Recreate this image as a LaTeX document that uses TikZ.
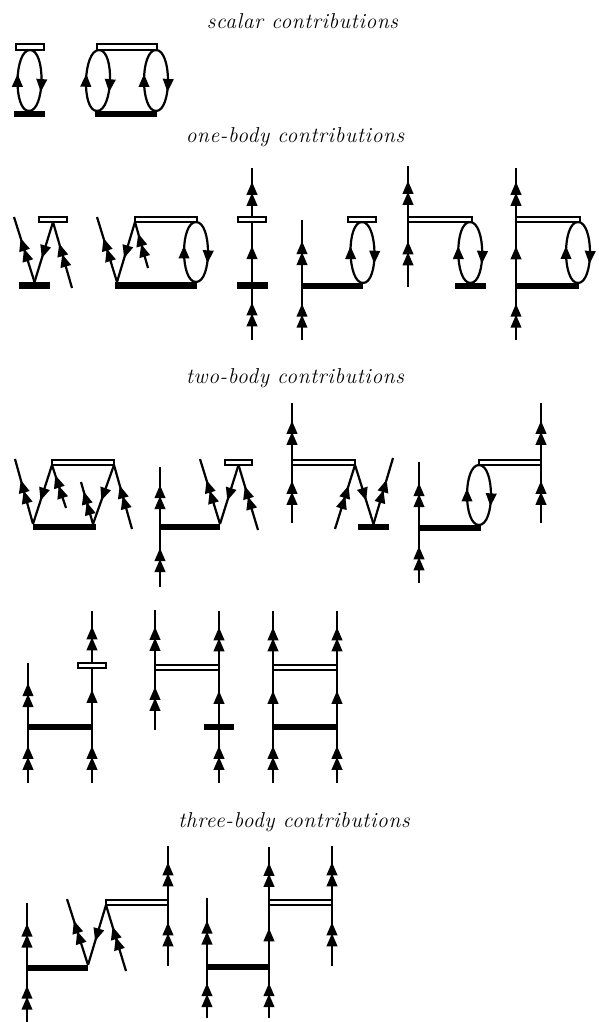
\documentclass[tikz,border=0pt]{standalone}
\usepackage{fontspec}
\setmainfont{Latin Modern Roman}
\usetikzlibrary{fit,backgrounds,decorations.markings,arrows.meta}
\tikzset{mytip/.tip={Triangle[length=13pt, width=10.5pt]}}
\tikzset{line/.style={line width=2.2pt}}
\tikzset{openbar/.style={fit={#1}, inner sep=0pt, outer sep=0pt, minimum size=0pt, draw, fill=white, line width=2.2pt}}
\tikzset{fullbar/.style={fit={#1}, inner sep=0pt, outer sep=0pt, minimum size=0pt, fill=black}}
\tikzset{sarrow/.style={line, postaction={decorate}, decoration={markings, mark=at position #1 with {\arrow[xshift=6.5pt]{mytip}}}}, sarrow/.default=.5}
\tikzset{darrow/.style={line, postaction={decorate}, decoration={markings, mark=at position #1 with {\arrow[xshift=12pt]{mytip}\arrow[xshift=1pt]{mytip}}}}, darrow/.default=.5}
\tikzset{beschrift/.style={font=\fontsize{21.5}{0}\selectfont\itshape\addfontfeature{LetterSpace=3}}}

\begin{document}
\begin{tikzpicture}[x=1pt, y=1pt]
		\useasboundingbox (0,0) rectangle (598,-1022);

		\node[beschrift] (scalarText) at (302.5,-21) {scalar contributions};
		\node[beschrift] (oneText) at (295,-137) {one-body contributions};
		\node[beschrift] (twoText) at (295,-378) {two-body contributions};
		\node[beschrift] (threeText) at (294,-822) {three-body contributions};

		% BARS
		\foreach \i/\xa/\ya/\xb/\yb in {1/16/-44/44/-50, 2/97/-44/157/-50, 3/39/-217/67/-222, 4/135/-217/197/-222, 5/238/-217/266/-222,
			6/348/-217/376/-222, 7/408/-217/472/-222, 8/516/-217/580/-222, 9/52/-460/114/-465, 10/225/-460/252/-465, 11/292/-460/355/-465,
			12/479/-460/541/-465, 13/78/-663/106/-668, 14/155/-665/219/-670, 15/273/-665/337/-670, 16/106/-900/168/-905, 17/269/-900/332/-905} {
			\node[openbar={(\xa,\ya) (\xb,\yb)}] (o\i) {};
		}
		\foreach \i/\xa/\ya/\xb/\yb in {1/13.5/-111/44.5/-117, 2/95/-111/157/-117, 3/19/-282/50/-289, 4/115/-282/197/-289, 5/236.5/-282/267.5/-289,
			6/302/-283/363/-289, 7/455/-283/486/-289, 8/516/-283/579/-289, 9/33/-524/96/-530, 10/160/-524/220/-530, 11/358/-524/389/-530,
			12/419/-525/481/-531, 13/28/-724/92/-730, 14/204/-724/234/-730, 15/273/-724/337/-730, 16/27/-965/88/-971, 17/207/-964/269/-970} {
			\node[fullbar={(\xa,\ya) (\xb,\yb)}] (b\i) {};
		}

		% FREE ENDS
		\foreach \n/\x/\y in {f3a/14/-217, f3b/72/-288, f4a/97/-217, f4b/148/-268, f5a/252/-168, f5b/252/-340, f6a/302/-220, f6b/302/-340,
			f7a/408/-166, f7b/408/-287, f8a/516/-168, f8b/516/-340, f9a/15/-459, f9b/66/-508, f9c/81/-482, f9d/132/-529,
			f10a/160/-467, f10b/160/-587, f10c/200/-459, f10d/258/-530, f11a/292/-403, f11b/292/-523, f11c/335/-529, f11d/393/-458,
			f12a/419/-462, f12b/419/-583, f12c/541/-403, f12d/541/-523, f13a/28/-663, f13b/28/-783, f13c/92/-611, f13d/92/-783,
			f14a/155/-610, f14b/155/-730, f14c/219/-611, f14d/219/-783, f15a/273/-611, f15b/273/-783, f15c/337/-611, f15d/337/-783,
			f16a/27/-903, f16b/27/-1022, f16c/67/-899, f16d/126/-971, f16e/168/-846, f16f/168/-966,
			f17a/207/-898, f17b/207/-1018, f17c/269/-847, f17d/269/-1018, f17e/332/-846, f17f/332/-966} {
			\coordinate (\n) at (\x,\y);
		}
		\coordinate (j4) at ([xshift=2pt]b4.north west);
		\coordinate (j9) at ([xshift=-3pt]b9.north east);
		\coordinate (l2a) at ([xshift=2pt]o2.south west);
		\coordinate (l2b) at ([xshift=2pt]b2.north west);
		\coordinate (l2c) at ([xshift=-1pt]o2.south east);
		\coordinate (l2d) at ([xshift=-1pt]b2.north east);
		\coordinate (l4a) at ([xshift=-1pt]o4.south east);
		\coordinate (l4b) at ([xshift=-1pt]b4.north east);
		\coordinate (l7a) at ([xshift=-2pt]o7.south east);
		\coordinate (l8a) at ([xshift=-2pt]o8.south east);
		\coordinate (l8b) at ([xshift=-1pt]b8.north east);
		\coordinate (l12b) at ([xshift=-2pt]b12.north east);

		\begin{scope}[on background layer]
		% LOOPS
		\foreach \t/\b in {o1.south/b1.north, l2a/l2b, l2c/l2d, l4a/l4b, o6.south/b6.north east, l7a/b7.north, l8a/l8b, o12.south west/l12b} {
			\draw[sarrow] (\b) to[out=180, in=180, distance=16pt] (\t);
			\draw[sarrow=.57] (\t) to[out=0, in=0, distance=16pt] (\b);
		}

		% SINGLE ARROWS
		\foreach \a/\b in {o3.south/b3.north, o4.south west/j4, b5.center/o5.center, b8.west/o8.west, o9.south west/b9.north west, o9.south east/j9,
			o10.south/b10.north east, o11.south east/b11.north, b13.east/o13.center, b14.center/o14.east, b15.west/o15.west, b15.east/o15.east,
			o16.south west/b16.north east, b17.east/o17.west} {
			\draw[sarrow] (\a) -- (\b);
		}

		% DOUBLE ARROWS
		\foreach \a/\b/\p in {b3.north/f3a/.5, f3b/o3.south/.5, j4/f4a/.5, f4b/o4.south west/.5, f5b/b5.center/.47, o5.center/f5a/.5,
			f6b/b6.west/.45, b6.west/f6a/.5, f7b/o7.west/.5, o7.west/f7a/.5, f8b/b8.west/.45, o8.west/f8a/.5,
			b9.north west/f9a/.5, f9b/o9.south west/.5, j9/f9c/.5, f9d/o9.south east/.5,
			f10b/b10.west/.45, b10.west/f10a/.5, b10.north east/f10c/.5, f10d/o10.south/.5,
			f11b/o11.west/.5, o11.west/f11a/.5, f11c/o11.south east/.5, b11.north/f11d/.5,
			f12b/b12.west/.45, b12.west/f12a/.5, f12d/o12.east/.5, o12.east/f12c/.5,
			f13b/b13.west/.45, b13.west/f13a/.5, f13d/b13.east/.45, o13.center/f13c/.5,
			f14b/o14.west/.5, o14.west/f14a/.5, f14d/b14.center/.45, o14.east/f14c/.5,
			f15b/b15.west/.45, o15.west/f15a/.5, f15d/b15.east/.45, o15.east/f15c/.5,
			f16b/b16.west/.45, b16.west/f16a/.5, b16.north east/f16c/.5, f16d/o16.south west/.5, f16f/o16.east/.5, o16.east/f16e/.5,
			f17b/b17.west/.45, b17.west/f17a/.5, f17d/b17.east/.45, o17.west/f17c/.5, f17f/o17.east/.5, o17.east/f17e/.5} {
			\draw[darrow=\p] (\a) -- (\b);
		}
		\end{scope}
\end{tikzpicture}
\end{document}
